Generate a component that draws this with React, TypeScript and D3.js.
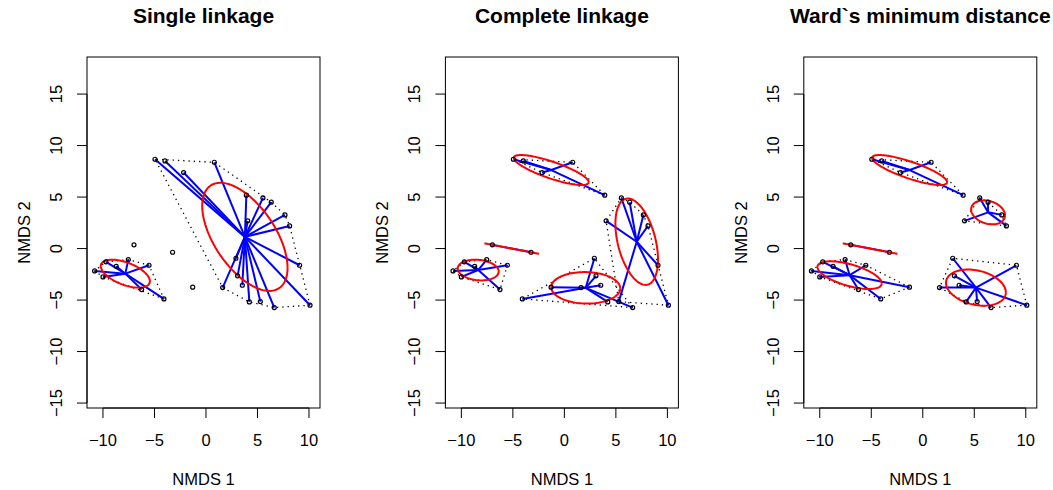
import React from 'react';
import * as d3 from 'd3';

// NMDS scores of the 30 sites
const pointX = [-10.81, -10.0, -9.71, -8.71, -7.54, -5.53, -6.25, -4.08, -6.99, -3.24, -1.29,
  -4.95, -3.98, -2.17, 0.81, 3.92, 5.53, 6.34, 7.67, 8.12, 4.05, 2.91, 3.07, 1.62, 3.53, 4.21,
  5.28, 6.63, 9.09, 10.1];
const pointY = [-2.17, -2.75, -1.29, -1.72, -1.07, -1.62, -3.98, -4.89, 0.36, -0.36, -3.75,
  8.67, 8.51, 7.38, 8.38, 5.18, 4.92, 4.5, 3.27, 2.2, 2.69, -0.94, -2.65, -3.79, -3.56, -5.18,
  -5.15, -5.73, -1.62, -5.5];

// cluster memberships (k = 5) for each method
const groupsSingle = [1, 1, 1, 1, 1, 1, 1, 1, 2, 3, 4, 5, 5, 5, 5, 5, 5, 5, 5, 5, 5, 5, 5, 5, 5, 5, 5, 5, 5, 5];
const groupsComplete = [1, 1, 1, 1, 1, 1, 1, 5, 2, 2, 5, 3, 3, 3, 3, 3, 4, 4, 4, 4, 4, 5, 5, 5, 5, 5, 4, 5, 4, 4];
const groupsWard = [1, 1, 1, 1, 1, 1, 1, 1, 2, 2, 1, 3, 3, 3, 3, 3, 4, 4, 4, 4, 4, 5, 5, 5, 5, 5, 5, 5, 5, 5];

const panelTitles = ['Single linkage', 'Complete linkage', 'Ward`s minimum distance'];
const panelGroups = [groupsSingle, groupsComplete, groupsWard];

const xTicks = [-10, -5, 0, 5, 10];
const yTicks = [-15, -10, -5, 0, 5, 10, 15];
const xDomain: [number, number] = [-11.55, 11.07];
const yDomain: [number, number] = [-15.48, 18.6];

const FONT = "'Liberation Sans', Arial, Helvetica, sans-serif";
const fmt = d3.format('d');

function Panel({ index }: { index: number }) {
  const ox = index * 358.4;
  const left = ox + 87, right = ox + 320, top = 57, bottom = 408;
  const x = d3.scaleLinear().domain(xDomain).range([left, right]);
  const y = d3.scaleLinear().domain(yDomain).range([bottom, top]);
  const groups = panelGroups[index];
  const ids = Array.from(new Set(groups)).sort((a, b) => a - b);
  const line = d3.line<[number, number]>().x(d => x(d[0])).y(d => y(d[1]));

  const hulls: JSX.Element[] = [];
  const spiders: JSX.Element[] = [];
  const ellipses: JSX.Element[] = [];

  ids.forEach(g => {
    const idx = d3.range(pointX.length).filter(i => groups[i] === g);
    const pts: [number, number][] = idx.map(i => [pointX[i], pointY[i]]);
    const n = pts.length;
    const cx = d3.mean(pts, p => p[0]) as number;
    const cy = d3.mean(pts, p => p[1]) as number;
    // hull
    if (n >= 3) {
      const h = d3.polygonHull(pts);
      if (h) {
        hulls.push(<path key={'h' + g} d={line(h.concat([h[0]])) || ''} fill="none" stroke="#000"
          strokeWidth={1.3} strokeDasharray="1.3 4" />);
      }
    } else if (n === 2) {
      hulls.push(<path key={'h' + g} d={line(pts) || ''} fill="none" stroke="#000"
        strokeWidth={1.3} strokeDasharray="1.3 4" />);
    }
    // spider
    if (n >= 2) {
      pts.forEach((p, k) => {
        spiders.push(<line key={'s' + g + '_' + k} x1={x(cx)} y1={y(cy)} x2={x(p[0])} y2={y(p[1])}
          stroke="#0000ff" strokeWidth={2} />);
      });
      // sd ellipse (unbiased covariance)
      const sxx = d3.sum(pts, p => (p[0] - cx) ** 2) / (n - 1);
      const syy = d3.sum(pts, p => (p[1] - cy) ** 2) / (n - 1);
      const sxy = d3.sum(pts, p => (p[0] - cx) * (p[1] - cy)) / (n - 1);
      const a = Math.sqrt(sxx);
      const b = a > 0 ? sxy / a : 0;
      const c = Math.sqrt(Math.max(0, syy - b * b));
      const ring: [number, number][] = d3.range(0, 101).map(k => {
        const t = (k / 100) * 2 * Math.PI;
        return [cx + a * Math.cos(t), cy + b * Math.cos(t) + c * Math.sin(t)];
      });
      ellipses.push(<path key={'e' + g} d={line(ring) || ''} fill="none" stroke="#ff0000" strokeWidth={2} />);
    }
  });

  const axisY = bottom;
  const axisX = left;
  return (
    <g>
      <text x={(left + right) / 2} y={22.7} textAnchor="middle" fontFamily={FONT} fontWeight="bold"
        fontSize={21} fill="#000">{panelTitles[index]}</text>
      {hulls}
      {spiders}
      {ellipses}
      {pointX.map((px, i) => (
        <circle key={'p' + i} cx={x(px)} cy={y(pointY[i])} r={2} fill="none" stroke="#000" strokeWidth={1.2} />
      ))}
      <rect x={left} y={top} width={right - left} height={bottom - top} fill="none" stroke="#000" strokeWidth={1} />
      {/* x axis */}
      <line x1={x(xTicks[0])} x2={x(xTicks[xTicks.length - 1])} y1={axisY} y2={axisY} stroke="#000" />
      {xTicks.map(t => (
        <g key={'xt' + t}>
          <line x1={x(t)} x2={x(t)} y1={axisY} y2={axisY + 10} stroke="#000" />
          <text x={x(t)} y={445.5} textAnchor="middle" fontFamily={FONT} fontSize={16.5} fill="#000">{fmt(t)}</text>
        </g>
      ))}
      <text x={(left + right) / 2} y={484.5} textAnchor="middle" fontFamily={FONT} fontSize={16.5} fill="#000">NMDS 1</text>
      {/* y axis */}
      <line x1={axisX} x2={axisX} y1={y(yTicks[0])} y2={y(yTicks[yTicks.length - 1])} stroke="#000" />
      {yTicks.map(t => (
        <g key={'yt' + t}>
          <line x1={axisX - 10} x2={axisX} y1={y(t)} y2={y(t)} stroke="#000" />
          <text x={axisX - 25} y={y(t)} transform={`rotate(-90, ${axisX - 25}, ${y(t)})`} textAnchor="middle"
            fontFamily={FONT} fontSize={16.5} fill="#000">{fmt(t)}</text>
        </g>
      ))}
      <text x={ox + 30} y={(top + bottom) / 2} transform={`rotate(-90, ${ox + 30}, ${(top + bottom) / 2})`}
        textAnchor="middle" fontFamily={FONT} fontSize={16.5} fill="#000">NMDS 2</text>
    </g>
  );
}

export default function App() {
  return (
    <svg width={1053} height={490} style={{ position: 'absolute', left: 0, top: 0, background: '#fff' }}>
      <rect x={0} y={0} width={1053} height={490} fill="#fff" />
      {[0, 1, 2].map(i => <Panel key={i} index={i} />)}
    </svg>
  );
}
